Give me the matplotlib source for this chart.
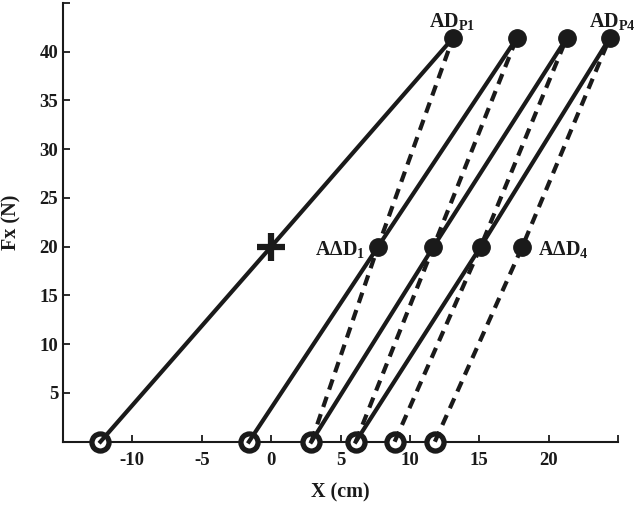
import matplotlib
matplotlib.use("Agg")
import matplotlib.pyplot as plt

plt.rcParams['font.family'] = ['Liberation Serif', 'DejaVu Serif']
plt.rcParams['font.weight'] = 'bold'
plt.rcParams['mathtext.fontset'] = 'custom'
plt.rcParams['mathtext.rm'] = 'Liberation Serif'
plt.rcParams['mathtext.bf'] = 'Liberation Serif:bold'
plt.rcParams['mathtext.it'] = 'Liberation Serif:italic'

# Data (cm, N)
y_levels = [0, 20, 41.4]
solid_start = [-12.3, -1.6, 2.9, 6.1]
solid_mid = [0.0, 7.7, 11.7, 15.1]
dashed_start = [2.9, 6.1, 8.9, 11.8]
dashed_mid = [7.7, 11.7, 15.1, 18.1]
top_x = [13.1, 17.7, 21.3, 24.4]

x_ticks = [-10, -5, 0, 5, 10, 15, 20]
y_ticks = [5, 10, 15, 20, 25, 30, 35, 40]

C = '#1a1a1a'
fig = plt.figure(figsize=(6.39, 5.05), dpi=100)
ax = fig.add_axes([63/639, 1-441.7/505, (618-63)/639, (441.7-3)/505])

# open circles at the bottom
ax.plot(sorted(set(solid_start + dashed_start)), [0]*6, ls='none', marker='o',
        ms=12.3, mfc='white', mec=C, mew=3.8, clip_on=False, zorder=4)

lw = 3.0
for s, m, t in zip(dashed_start, dashed_mid, top_x):
    ax.plot([s, m, t], y_levels, color=C, lw=lw, ls=(0, (2.6, 1.8)),
            clip_on=False, zorder=5)
for s, m, t in zip(solid_start, solid_mid, top_x):
    ax.plot([s, m, t], y_levels, color=C, lw=lw, ls='-',
            clip_on=False, zorder=6)

# filled dots at top
ax.plot(top_x, [y_levels[2]]*4, ls='none', marker='o', ms=12.5,
        color=C, clip_on=False, zorder=7)
# filled dots at 20 N
ax.plot(dashed_mid, [20]*4, ls='none', marker='o', ms=12.5,
        color=C, clip_on=False, zorder=7)
# cross
ax.plot([solid_mid[0]], [20], ls='none', marker='+', ms=20, mew=4.5,
        color=C, zorder=7)

fs = 14.5
ax.text(14.7, 42.5, r'$\mathbf{AD}_{\mathbf{P1}}$', ha='right', va='baseline',
        fontsize=fs, color=C, clip_on=False)
ax.text(26.3, 42.5, r'$\mathbf{AD}_{\mathbf{P4}}$', ha='right', va='baseline',
        fontsize=fs, color=C, clip_on=False)
ax.text(6.8, 19.2, r'$\mathbf{A\Delta D}_{\mathbf{1}}$', ha='right', va='baseline',
        fontsize=fs, color=C)
ax.text(19.2, 19.2, r'$\mathbf{A\Delta D}_{\mathbf{4}}$', ha='left', va='baseline',
        fontsize=fs, color=C)

ax.set_xlim(-15, 25)
ax.set_ylim(0, 45)
ax.set_xticks(x_ticks + [25])
ax.set_xticklabels([str(v) for v in x_ticks] + [''])
ax.set_yticks(y_ticks + [45])
ax.set_yticklabels([str(v) for v in y_ticks] + [''])
ax.tick_params(direction='in', length=5, width=1.3, labelsize=13.5,
               colors=C)
ax.tick_params(axis='x', pad=7.5)
ax.tick_params(axis='y', pad=3.5)
for lab in ax.get_xticklabels() + ax.get_yticklabels():
    lab.set_fontweight('bold')
ax.spines['top'].set_visible(False)
ax.spines['right'].set_visible(False)
for sp in ('left', 'bottom'):
    ax.spines[sp].set_linewidth(1.5)
    ax.spines[sp].set_color(C)

ax.set_xlabel('X (cm)', fontsize=14.5, fontweight='bold', color=C)
ax.xaxis.set_label_coords(0.5, -(492 - 441.7) / (441.7 - 3))
ax.xaxis.label.set_va('center')
ax.set_ylabel('Fx (N)', fontsize=14.5, fontweight='bold', color=C)
ax.yaxis.set_label_coords(-(63 - 11.5) / (618 - 63), 0.5)
ax.yaxis.label.set_va('center')

fig.savefig('out.png', dpi=100)
